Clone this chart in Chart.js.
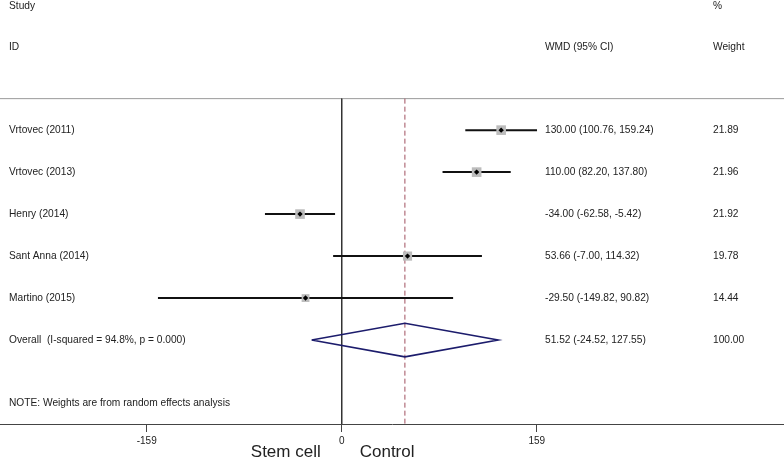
<!DOCTYPE html>
<html>
<head>
<meta charset="utf-8">
<script src="https://cdn.jsdelivr.net/npm/chart.js@4"></script>
<style>
  html, body { margin: 0; padding: 0; background: #fff; }
  #wrap { width: 784px; height: 459px; }
</style>
</head>
<body>
<div id="wrap"><canvas id="forest"></canvas></div>
<script>
// ---- data ----
var studies = ['Vrtovec (2011)', 'Vrtovec (2013)', 'Henry (2014)', 'Sant Anna (2014)', 'Martino (2015)'];
var wmd = [130.00, 110.00, -34.00, 53.66, -29.50];
var ciLow = [100.76, 82.20, -62.58, -7.00, -149.82];
var ciHigh = [159.24, 137.80, -5.42, 114.32, 90.82];
var weights = [21.89, 21.96, 21.92, 19.78, 14.44];

var overallLabel = 'Overall  (I-squared = 94.8%, p = 0.000)';
var overallEst = 51.52;
var overallCI = [-24.52, 127.55];
var overallWeight = 100.00;

var xTicks = [-159, 0, 159];
var noteText = 'NOTE: Weights are from random effects analysis';
var leftLabel = 'Stem cell';
var rightLabel = 'Control';

// ---- layout (rows are y units, reversed axis) ----
var X_MIN = -278.6, X_MAX = 360.6;
var Y_MIN = -3.1, Y_MAX = 7;
var TOP_RULE = -0.75;
var NOTE_ROW = 6.5;
var FONT = '"Liberation Sans", Arial, sans-serif';
var TEXT_COLOR = '#222';

function fmt(v) { return v.toFixed(2); }

// CI whiskers, one line dataset per study
var ciSets = studies.map(function (s, i) {
    return {
        type: 'line',
        data: [{ x: ciLow[i], y: i }, { x: ciHigh[i], y: i }],
        borderColor: '#111',
        borderWidth: 2,
        pointRadius: 0,
        order: 3
    };
});

var boxSet = {
    type: 'scatter',
    data: wmd.map(function (v, i) { return { x: v, y: i }; }),
    pointStyle: 'rect',
    pointRadius: weights.map(function (w) { return 6.8 * Math.sqrt(w / 21.9); }),
    backgroundColor: '#bcbcbc',
    borderWidth: 0,
    order: 2
};

var dotSet = {
    type: 'scatter',
    data: wmd.map(function (v, i) { return { x: v, y: i }; }),
    pointStyle: 'rectRot',
    pointRadius: 2.7,
    backgroundColor: '#000',
    borderWidth: 0,
    order: 1
};

var ovRow = studies.length;
var diamondSet = {
    type: 'line',
    data: [
        { x: overallCI[0], y: ovRow },
        { x: overallEst, y: ovRow - 0.4 },
        { x: overallCI[1], y: ovRow },
        { x: overallEst, y: ovRow + 0.4 },
        { x: overallCI[0], y: ovRow }
    ],
    borderColor: '#1c1c6c',
    borderWidth: 1.6,
    pointRadius: 0,
    tension: 0,
    order: 1
};

var zeroLine = {
    type: 'line',
    data: [{ x: 0, y: TOP_RULE }, { x: 0, y: Y_MAX }],
    borderColor: '#333',
    borderWidth: 1,
    pointRadius: 0,
    order: 4
};

var overallLine = {
    type: 'line',
    data: [{ x: overallEst, y: TOP_RULE }, { x: overallEst, y: Y_MAX }],
    borderColor: '#a0505f',
    borderWidth: 1,
    borderDash: [5, 3],
    pointRadius: 0,
    order: 4
};

var topRule = {
    type: 'line',
    data: [{ x: X_MIN, y: TOP_RULE }, { x: X_MAX, y: TOP_RULE }],
    borderColor: '#9a9a9a',
    borderWidth: 1,
    pointRadius: 0,
    order: 5
};

// text columns drawn on the canvas
var textPlugin = {
    id: 'forestText',
    afterDraw: function (chart) {
        var ctx = chart.ctx;
        var ys = chart.scales.y;
        var col1 = 9, col2 = 545, col3 = 713;
        ctx.save();
        ctx.fillStyle = TEXT_COLOR;
        ctx.font = '10.2px ' + FONT;
        ctx.textAlign = 'left';
        ctx.textBaseline = 'middle';

        ctx.fillText('Study', col1, ys.getPixelForValue(-2.95));
        ctx.fillText('%', col3, ys.getPixelForValue(-2.95));
        ctx.fillText('ID', col1, ys.getPixelForValue(-1.98));
        ctx.fillText('WMD (95% CI)', col2, ys.getPixelForValue(-1.98));
        ctx.fillText('Weight', col3, ys.getPixelForValue(-1.98));

        studies.forEach(function (s, i) {
            var y = ys.getPixelForValue(i);
            ctx.fillText(s, col1, y);
            ctx.fillText(fmt(wmd[i]) + ' (' + fmt(ciLow[i]) + ', ' + fmt(ciHigh[i]) + ')', col2, y);
            ctx.fillText(fmt(weights[i]), col3, y);
        });

        var yo = ys.getPixelForValue(ovRow);
        ctx.fillText(overallLabel, col1, yo);
        ctx.fillText(fmt(overallEst) + ' (' + fmt(overallCI[0]) + ', ' + fmt(overallCI[1]) + ')', col2, yo);
        ctx.fillText(fmt(overallWeight), col3, yo);

        ctx.fillText(noteText, col1, ys.getPixelForValue(NOTE_ROW));

        // favour labels under the axis
        var xs = chart.scales.x;
        var zx = xs.getPixelForValue(0);
        ctx.font = '17px ' + FONT;
        ctx.textBaseline = 'alphabetic';
        ctx.textAlign = 'right';
        ctx.fillText(leftLabel, zx - 21, 457);
        ctx.textAlign = 'left';
        ctx.fillText(rightLabel, zx + 18, 457);
        ctx.restore();
    }
};

var chart = new Chart(document.getElementById('forest').getContext('2d'), {
    type: 'scatter',
    data: {
        datasets: [topRule, zeroLine, overallLine].concat(ciSets, [boxSet, dotSet, diamondSet])
    },
    options: {
        responsive: true,
        maintainAspectRatio: false,
        animation: false,
        layout: { padding: 0, autoPadding: false },
        plugins: {
            legend: { display: false },
            tooltip: { enabled: false }
        },
        scales: {
            x: {
                type: 'linear',
                min: X_MIN,
                max: X_MAX,
                afterBuildTicks: function (scale) {
                    scale.ticks = xTicks.map(function (v) { return { value: v }; });
                },
                afterFit: function (scale) { scale.height = 35; },
                grid: {
                    drawOnChartArea: false,
                    drawTicks: true,
                    tickLength: 8,
                    color: '#444',
                    lineWidth: 1
                },
                border: { display: true, color: '#444', width: 1 },
                ticks: {
                    autoSkip: false,
                    maxRotation: 0,
                    padding: 3,
                    color: TEXT_COLOR,
                    font: { family: FONT, size: 10 },
                    callback: function (v) { return String(v); }
                }
            },
            y: {
                type: 'linear',
                reverse: true,
                min: Y_MIN,
                max: Y_MAX,
                display: false
            }
        }
    },
    plugins: [textPlugin]
});
</script>
</body>
</html>
